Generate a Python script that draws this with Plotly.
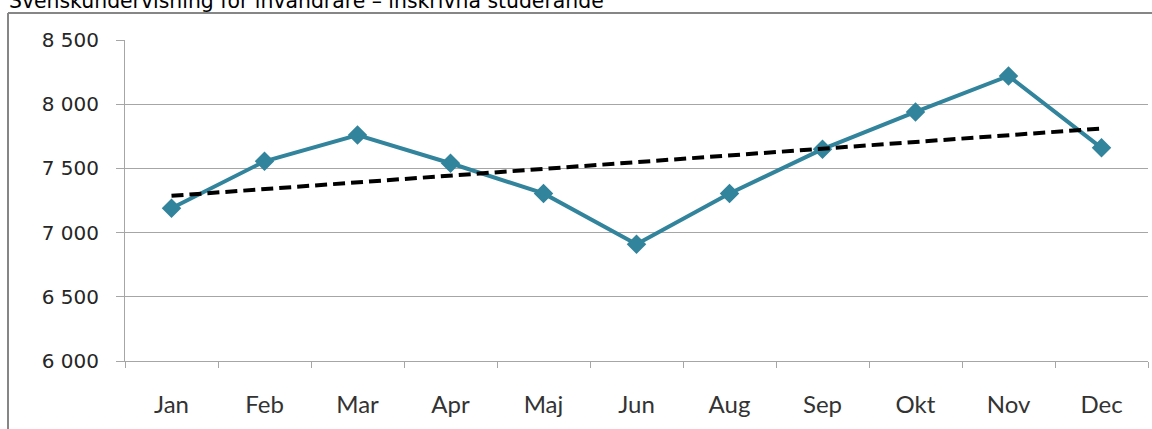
import numpy as np
import plotly.graph_objects as go

title_text = "Svenskundervisning för invandrare – inskrivna studerande"
months = ["Jan", "Feb", "Mar", "Apr", "Maj", "Jun", "Aug", "Sep", "Okt", "Nov", "Dec"]
students = [7190, 7555, 7760, 7540, 7305, 6910, 7305, 7650, 7940, 8220, 7660]
y_ticks = [6000, 6500, 7000, 7500, 8000, 8500]

# linear trend line fitted to the series
xi = np.arange(len(months))
slope, intercept = np.polyfit(xi, students, 1)
trend = slope * xi + intercept

W, H = 1152, 429
L, R, T, B = 125, 4, 40, 68
pw, ph = W - L - R, H - T - B

def px_x(p):
    return (p - L) / pw

def px_y(p):
    return (H - B - p) / ph

teal = "#31849B"
grid = "#A6A6A6"

fig = go.Figure()
fig.add_trace(go.Scatter(
    x=months, y=students, mode="lines+markers",
    line=dict(color=teal, width=4),
    marker=dict(symbol="diamond", size=15, color=teal),
    showlegend=False, hoverinfo="x+y",
))
fig.add_trace(go.Scatter(
    x=months, y=trend, mode="lines",
    line=dict(color="black", width=4, dash="12px,6px"),
    showlegend=False, hoverinfo="skip",
))

fig.update_layout(
    width=W, height=H,
    margin=dict(l=L, r=R, t=T, b=B),
    paper_bgcolor="white", plot_bgcolor="white",
    separators=", ",
    xaxis=dict(
        type="category", tickson="boundaries", ticks="outside", ticklen=6,
        tickcolor=grid, tickwidth=1, showline=True, linecolor=grid, linewidth=1,
        showgrid=False, tickfont=dict(family="Lato", size=24, color="#333333"),
        range=[-0.5, len(months) - 0.5], ticklabelstandoff=22,
    ),
    yaxis=dict(
        range=[6000, 8500], tickvals=y_ticks, tickformat=",d",
        ticks="outside", ticklen=8, tickcolor=grid, tickwidth=1,
        showline=True, linecolor=grid, linewidth=1,
        showgrid=True, gridcolor=grid, gridwidth=1, zeroline=False,
        tickfont=dict(family="DejaVu Sans", size=20, color="#262626"),
        ticklabelstandoff=13,
    ),
    shapes=[
        dict(type="line", xref="paper", yref="paper",
             x0=px_x(8), x1=px_x(W + 5), y0=px_y(13), y1=px_y(13),
             line=dict(color="#868686", width=2)),
        dict(type="line", xref="paper", yref="paper",
             x0=px_x(8), x1=px_x(8), y0=px_y(13), y1=px_y(H + 5),
             line=dict(color="#868686", width=2)),
    ],
    annotations=[
        dict(text=title_text, xref="paper", yref="paper", x=px_x(7), y=px_y(15),
             xanchor="left", yanchor="bottom", showarrow=False,
             font=dict(family="DejaVu Sans", size=20.4, color="black")),
    ],
)

fig.write_html("out.html",
               config={"displayModeBar": False},
               post_script="document.body.style.margin='0';document.body.style.overflow='hidden';")
